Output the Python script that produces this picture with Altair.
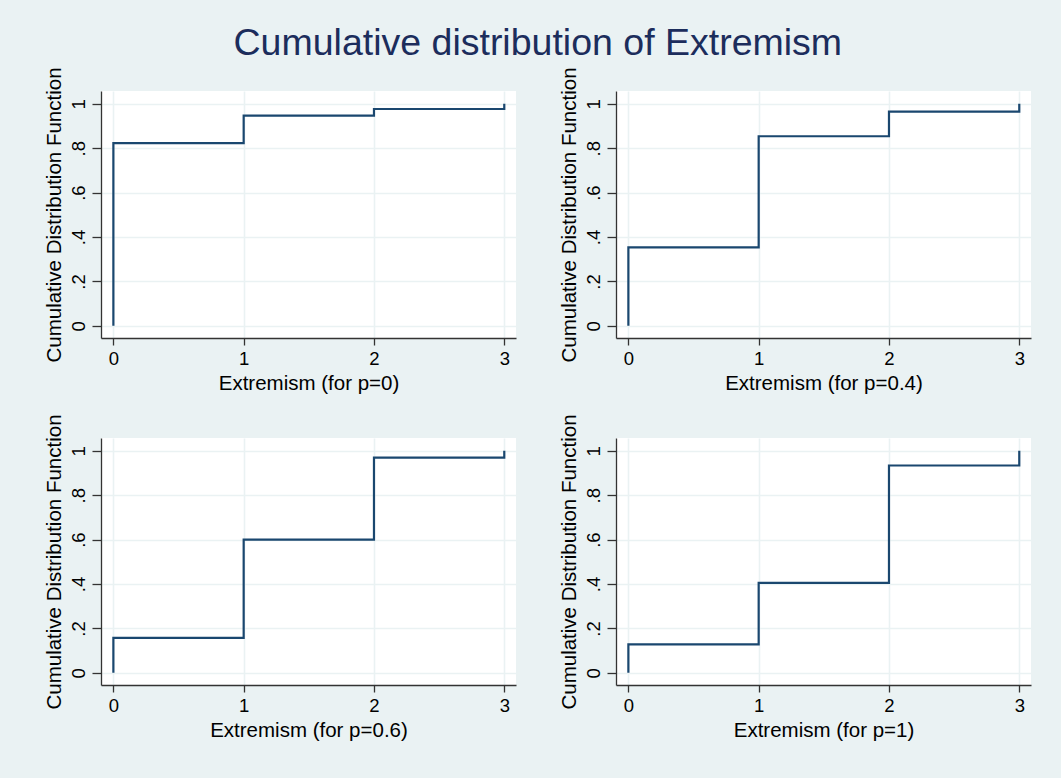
import altair as alt
import pandas as pd

# Extremism levels and the empirical CDF at each level, one list per p value
levels = [0, 1, 2, 3]
cdf_p0 = [0.823, 0.947, 0.977, 1.0]
cdf_p04 = [0.353, 0.854, 0.965, 1.0]
cdf_p06 = [0.157, 0.600, 0.970, 1.0]
cdf_p1 = [0.128, 0.405, 0.934, 1.0]

panel_labels = ["p=0", "p=0.4", "p=0.6", "p=1"]
panel_values = [cdf_p0, cdf_p04, cdf_p06, cdf_p1]

y_ticks = [0, 0.2, 0.4, 0.6, 0.8, 1]
x_ticks = [0, 1, 2, 3]

LINE = "#1A476F"
BG = "#EAF2F3"
FONT = "Liberation Sans"


def step_frame(values):
    # the step path starts at (0, 0) and then visits each level's CDF value
    xs = [levels[0]] + levels
    ys = [0.0] + values
    return pd.DataFrame({"x": xs, "y": ys, "order": list(range(len(xs)))})


def panel(label, values):
    return (
        alt.Chart(step_frame(values))
        .mark_line(interpolate="step-after", color=LINE, strokeWidth=2.2, clip=True)
        .encode(
            x=alt.X(
                "x:Q",
                scale=alt.Scale(domain=[-0.095, 3.09], nice=False, zero=False),
                axis=alt.Axis(
                    values=x_ticks,
                    format="d",
                    title=f"Extremism (for {label})",
                ),
            ),
            y=alt.Y(
                "y:Q",
                scale=alt.Scale(domain=[-0.055, 1.058], nice=False, zero=False),
                axis=alt.Axis(
                    values=y_ticks,
                    labelExpr="datum.value > 0 && datum.value < 1 ? substring(format(datum.value, '.1f'), 1) : format(datum.value, 'd')",
                    labelAngle=270,
                    labelAlign="center",
                    labelBaseline="bottom",
                    title="Cumulative Distribution Function",
                ),
            ),
            order="order:Q",
        )
        .properties(width=415, height=247)
    )


charts = [panel(l, v) for l, v in zip(panel_labels, panel_values)]

chart = (
    alt.concat(*charts, columns=2, spacing=100, bounds="flush")
    .properties(
        title=alt.TitleParams(
            "Cumulative distribution of Extremism",
            anchor="middle",
            fontSize=37.5,
            font=FONT,
            fontWeight="normal",
            color="#1C2D5C",
            offset=4,
        ),
        padding={"left": 44, "top": 25, "right": 30, "bottom": 39},
    )
    .configure(background=BG, font=FONT)
    .configure_view(stroke=None, fill="white")
    .configure_axis(
        labelFont=FONT,
        titleFont=FONT,
        labelFontSize=18.5,
        titleFontSize=20.5,
        titleFontWeight="normal",
        labelColor="black",
        titleColor="black",
        domainColor="#333333",
        domainWidth=1.3,
        tickColor="#333333",
        tickWidth=1.3,
        gridColor=BG,
        gridWidth=1.6,
        gridOpacity=1,
    )
    .configure_axisX(tickSize=7, labelPadding=4.5, titlePadding=5)
    .configure_axisY(tickSize=9, labelPadding=4, titlePadding=4.4)
)

chart.save("out.html", embed_options={"renderer": "svg", "actions": False})
